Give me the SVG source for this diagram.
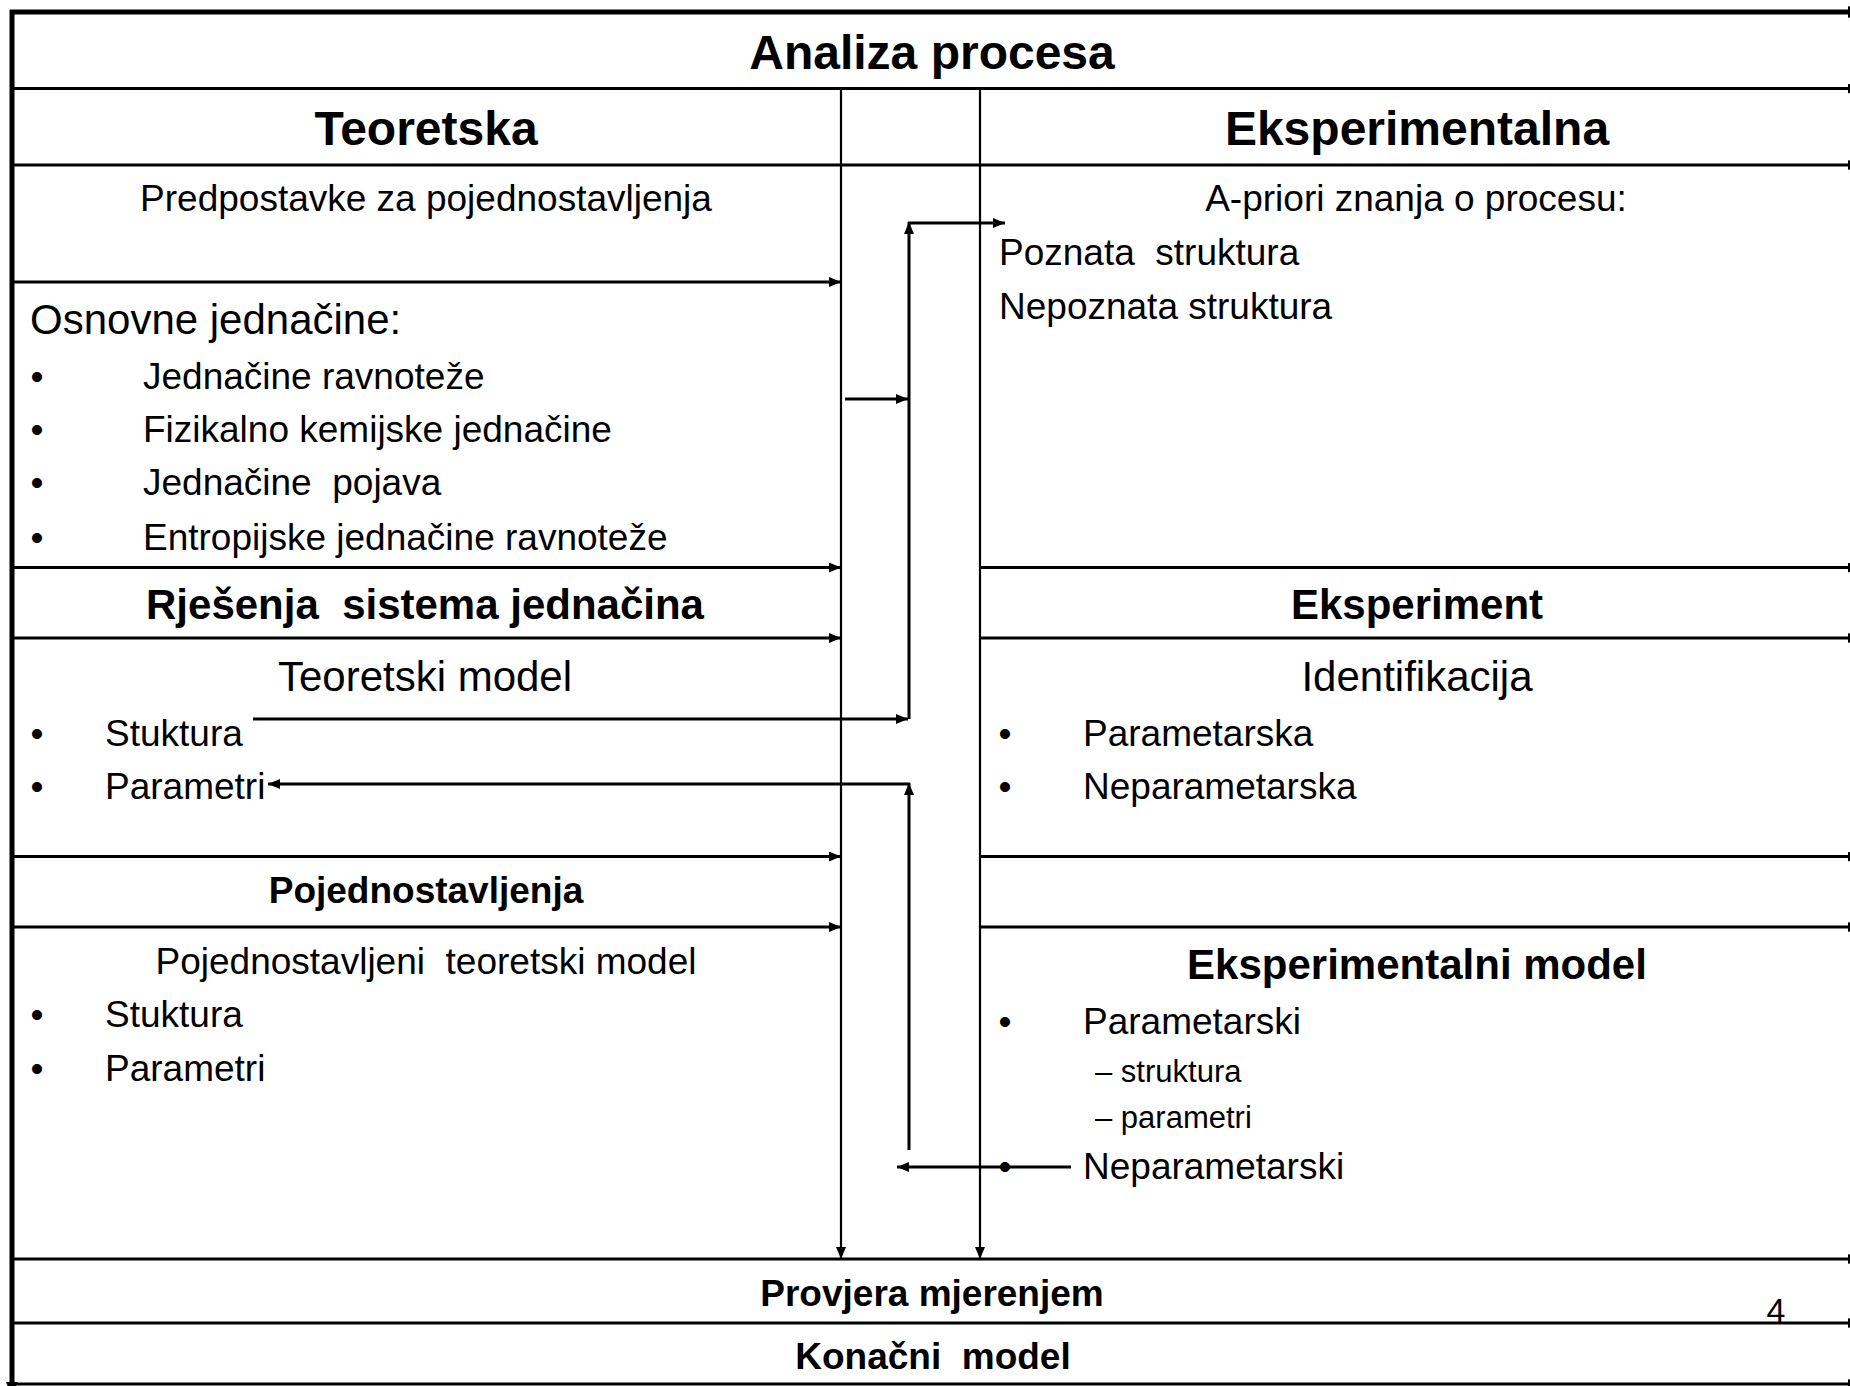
<svg xmlns="http://www.w3.org/2000/svg" width="1850" height="1386" viewBox="0 0 1850 1386">
<defs>
<style>
text{font-family:"Liberation Sans",Arial,sans-serif;fill:#000}
.h1{font-size:48px;font-weight:bold}
.hb{font-size:42px;font-weight:bold}
.h2{font-size:42px}
.t{font-size:37px}
.tb{font-size:37px;font-weight:bold}
.s{font-size:31px}
.c{text-anchor:middle}
.ln{stroke:#000;stroke-width:3;fill:none}
.thin{stroke:#000;stroke-width:2.2;fill:none}
.thick{stroke:#000;stroke-width:5;fill:none}
.arr{marker-end:url(#a)}
.arrb{marker-end:url(#ab)}
</style>
<marker id="a" viewBox="0 0 12 10" markerWidth="12" markerHeight="10" refX="12" refY="5" orient="auto" markerUnits="userSpaceOnUse"><path d="M0,0L12,5L0,10z"/></marker>
<marker id="ab" viewBox="0 0 14 12" markerWidth="14" markerHeight="12" refX="14" refY="6" orient="auto" markerUnits="userSpaceOnUse"><path d="M0,0L14,6L0,12z"/></marker>
</defs>
<rect width="1850" height="1386" fill="#fff"/>

<g id="connectors">
  <line class="thick arrb" x1="12" y1="10" x2="12" y2="1396"/>
  <line class="thick arrb" x1="10" y1="12" x2="1862" y2="12"/>
  <line class="ln arr" x1="12" y1="88.5" x2="1860" y2="88.5"/>
  <line class="ln arr" x1="12" y1="165" x2="1860" y2="165"/>
  <line class="ln arr" x1="12" y1="282" x2="841" y2="282"/>
  <line class="ln arr" x1="12" y1="567.5" x2="841" y2="567.5"/>
  <line class="ln arr" x1="980" y1="567.5" x2="1860" y2="567.5"/>
  <line class="ln arr" x1="12" y1="638" x2="841" y2="638"/>
  <line class="ln arr" x1="980" y1="638" x2="1860" y2="638"/>
  <line class="ln arr" x1="12" y1="856.5" x2="841" y2="856.5"/>
  <line class="ln arr" x1="980" y1="856.5" x2="1860" y2="856.5"/>
  <line class="ln arr" x1="12" y1="927" x2="841" y2="927"/>
  <line class="ln arr" x1="980" y1="927" x2="1860" y2="927"/>
  <line class="ln arr" x1="12" y1="1259" x2="1860" y2="1259"/>
  <line class="ln arr" x1="12" y1="1323" x2="1860" y2="1323"/>
  <line class="ln arr" x1="12" y1="1384" x2="1860" y2="1384"/>
  <line class="thin arr" x1="841" y1="88.5" x2="841" y2="1259"/>
  <line class="thin arr" x1="980" y1="88.5" x2="980" y2="1259"/>
  <line class="ln arr" x1="253" y1="719" x2="908" y2="719"/>
  <line class="ln arr" x1="909" y1="719" x2="909" y2="222"/>
  <line class="ln arr" x1="908" y1="223" x2="1005" y2="223"/>
  <line class="ln arr" x1="845" y1="399" x2="908" y2="399"/>
  <line class="ln arr" x1="1071" y1="1167" x2="897" y2="1167"/>
  <line class="ln arr" x1="909" y1="1150" x2="909" y2="783"/>
  <line class="ln arr" x1="910" y1="784" x2="268" y2="784"/>
</g>

<g id="title"><text class="h1 c" x="932" y="69">Analiza procesa</text></g>
<g id="teoretska"><text class="h1 c" x="426" y="145">Teoretska</text></g>
<g id="eksperimentalna"><text class="h1 c" x="1417" y="145">Eksperimentalna</text></g>

<g id="predpostavke"><text class="t c" x="426" y="211">Predpostavke za pojednostavljenja</text></g>

<g id="apriori">
  <text class="t c" x="1416" y="211">A-priori znanja o procesu:</text>
  <text class="t" x="999" y="265" xml:space="preserve">Poznata  struktura</text>
  <text class="t" x="999" y="319">Nepoznata struktura</text>
</g>

<g id="osnovne">
  <text class="h2" x="30" y="334">Osnovne jednačine:</text>
  <text class="t c" x="37" y="389">•</text><text class="t" x="143" y="389">Jednačine ravnoteže</text>
  <text class="t c" x="37" y="442">•</text><text class="t" x="143" y="442">Fizikalno kemijske jednačine</text>
  <text class="t c" x="37" y="495">•</text><text class="t" x="143" y="495" xml:space="preserve">Jednačine  pojava</text>
  <text class="t c" x="37" y="550">•</text><text class="t" x="143" y="550">Entropijske jednačine ravnoteže</text>
</g>

<g id="rjesenja"><text class="hb c" x="425" y="619" xml:space="preserve">Rješenja  sistema jednačina</text></g>
<g id="eksperiment"><text class="hb c" x="1417" y="619">Eksperiment</text></g>

<g id="teoretski-model">
  <text class="h2 c" x="425" y="691">Teoretski model</text>
  <text class="t c" x="37" y="746">•</text><text class="t" x="105" y="746">Stuktura</text>
  <text class="t c" x="37" y="799">•</text><text class="t" x="105" y="799">Parametri</text>
</g>

<g id="identifikacija">
  <text class="h2 c" x="1417" y="691">Identifikacija</text>
  <text class="t c" x="1005" y="746">•</text><text class="t" x="1083" y="746">Parametarska</text>
  <text class="t c" x="1005" y="799">•</text><text class="t" x="1083" y="799">Neparametarska</text>
</g>

<g id="pojednostavljenja"><text class="tb c" x="426" y="903">Pojednostavljenja</text></g>

<g id="pojednostavljeni-model">
  <text class="t c" x="426" y="974" xml:space="preserve">Pojednostavljeni  teoretski model</text>
  <text class="t c" x="37" y="1027">•</text><text class="t" x="105" y="1027">Stuktura</text>
  <text class="t c" x="37" y="1081">•</text><text class="t" x="105" y="1081">Parametri</text>
</g>

<g id="eksperimentalni-model">
  <text class="hb c" x="1417" y="979">Eksperimentalni model</text>
  <text class="t c" x="1005" y="1034">•</text><text class="t" x="1083" y="1034">Parametarski</text>
  <text class="s" x="1095" y="1082">– struktura</text>
  <text class="s" x="1095" y="1128">– parametri</text>
  <text class="t c" x="1005" y="1179">•</text><text class="t" x="1083" y="1179">Neparametarski</text>
</g>

<g id="provjera"><text class="tb c" x="932" y="1306">Provjera mjerenjem</text></g>
<g id="konacni"><text class="tb c" x="933" y="1369" xml:space="preserve">Konačni  model</text></g>
<g id="page"><text class="c" x="1776" y="1322" font-size="34">4</text></g>
</svg>
